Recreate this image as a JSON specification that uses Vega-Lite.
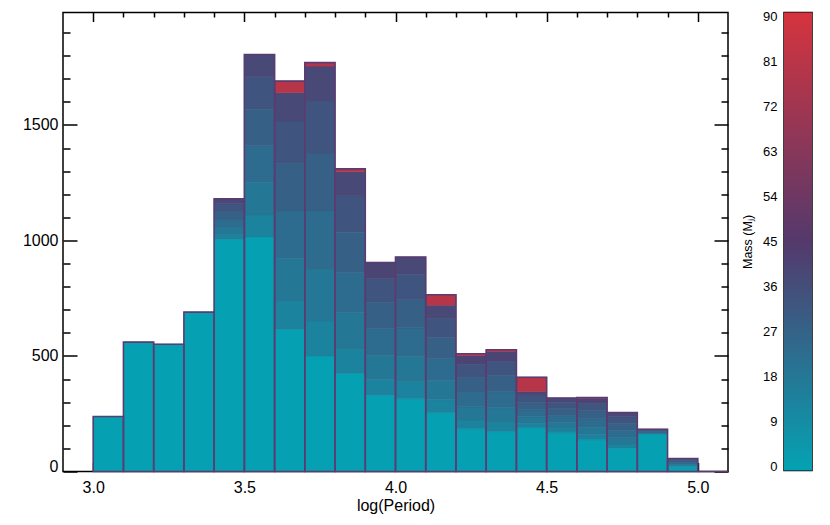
{
  "$schema": "https://vega.github.io/schema/vega-lite/v6.json",
  "background": "white",
  "padding": {"left": 21, "top": 9.5, "right": 5, "bottom": 5},
  "spacing": 10,
  "config": {
    "view": {"stroke": "black", "strokeWidth": 1.5},
    "font": "Liberation Sans",
    "axis": {
      "domain": false,
      "grid": false,
      "tickColor": "black",
      "tickWidth": 1.5,
      "labelFont": "Liberation Sans",
      "labelFontSize": 16,
      "labelColor": "black",
      "titleFont": "Liberation Sans",
      "titleFontSize": 16,
      "titleFontWeight": "normal",
      "titleColor": "black"
    }
  },
  "datasets": {
    "seg": [
      {"x0": 3.0, "x1": 3.1, "lo": 0, "hi": 238, "m": 0},
      {"x0": 3.1, "x1": 3.2, "lo": 0, "hi": 560, "m": 0},
      {"x0": 3.2, "x1": 3.3, "lo": 0, "hi": 551, "m": 0},
      {"x0": 3.3, "x1": 3.4, "lo": 0, "hi": 690, "m": 0},
      {"x0": 3.4, "x1": 3.5, "lo": 0, "hi": 1005, "m": 0},
      {"x0": 3.4, "x1": 3.5, "lo": 1005, "hi": 1026, "m": 13},
      {"x0": 3.4, "x1": 3.5, "lo": 1026, "hi": 1058, "m": 18},
      {"x0": 3.4, "x1": 3.5, "lo": 1058, "hi": 1093, "m": 23},
      {"x0": 3.4, "x1": 3.5, "lo": 1093, "hi": 1128, "m": 28},
      {"x0": 3.4, "x1": 3.5, "lo": 1128, "hi": 1159, "m": 33},
      {"x0": 3.4, "x1": 3.5, "lo": 1159, "hi": 1180, "m": 38},
      {"x0": 3.5, "x1": 3.6, "lo": 0, "hi": 1015, "m": 0},
      {"x0": 3.5, "x1": 3.6, "lo": 1015, "hi": 1110, "m": 13},
      {"x0": 3.5, "x1": 3.6, "lo": 1110, "hi": 1252, "m": 18},
      {"x0": 3.5, "x1": 3.6, "lo": 1252, "hi": 1410, "m": 23},
      {"x0": 3.5, "x1": 3.6, "lo": 1410, "hi": 1568, "m": 28},
      {"x0": 3.5, "x1": 3.6, "lo": 1568, "hi": 1710, "m": 33},
      {"x0": 3.5, "x1": 3.6, "lo": 1710, "hi": 1805, "m": 38},
      {"x0": 3.6, "x1": 3.7, "lo": 0, "hi": 615, "m": 0},
      {"x0": 3.6, "x1": 3.7, "lo": 615, "hi": 738, "m": 13},
      {"x0": 3.6, "x1": 3.7, "lo": 738, "hi": 923, "m": 18},
      {"x0": 3.6, "x1": 3.7, "lo": 923, "hi": 1128, "m": 23},
      {"x0": 3.6, "x1": 3.7, "lo": 1128, "hi": 1333, "m": 28},
      {"x0": 3.6, "x1": 3.7, "lo": 1333, "hi": 1517, "m": 33},
      {"x0": 3.6, "x1": 3.7, "lo": 1517, "hi": 1640, "m": 38},
      {"x0": 3.6, "x1": 3.7, "lo": 1640, "hi": 1690, "m": 80},
      {"x0": 3.7, "x1": 3.8, "lo": 0, "hi": 500, "m": 0},
      {"x0": 3.7, "x1": 3.8, "lo": 500, "hi": 651, "m": 13},
      {"x0": 3.7, "x1": 3.8, "lo": 651, "hi": 877, "m": 18},
      {"x0": 3.7, "x1": 3.8, "lo": 877, "hi": 1128, "m": 23},
      {"x0": 3.7, "x1": 3.8, "lo": 1128, "hi": 1379, "m": 28},
      {"x0": 3.7, "x1": 3.8, "lo": 1379, "hi": 1604, "m": 33},
      {"x0": 3.7, "x1": 3.8, "lo": 1604, "hi": 1755, "m": 38},
      {"x0": 3.7, "x1": 3.8, "lo": 1755, "hi": 1770, "m": 80},
      {"x0": 3.8, "x1": 3.9, "lo": 0, "hi": 425, "m": 0},
      {"x0": 3.8, "x1": 3.9, "lo": 425, "hi": 530, "m": 13},
      {"x0": 3.8, "x1": 3.9, "lo": 530, "hi": 687, "m": 18},
      {"x0": 3.8, "x1": 3.9, "lo": 687, "hi": 862, "m": 23},
      {"x0": 3.8, "x1": 3.9, "lo": 862, "hi": 1036, "m": 28},
      {"x0": 3.8, "x1": 3.9, "lo": 1036, "hi": 1193, "m": 33},
      {"x0": 3.8, "x1": 3.9, "lo": 1193, "hi": 1298, "m": 38},
      {"x0": 3.8, "x1": 3.9, "lo": 1298, "hi": 1310, "m": 80},
      {"x0": 3.9, "x1": 4.0, "lo": 0, "hi": 330, "m": 0},
      {"x0": 3.9, "x1": 4.0, "lo": 330, "hi": 399, "m": 13},
      {"x0": 3.9, "x1": 4.0, "lo": 399, "hi": 503, "m": 18},
      {"x0": 3.9, "x1": 4.0, "lo": 503, "hi": 618, "m": 23},
      {"x0": 3.9, "x1": 4.0, "lo": 618, "hi": 733, "m": 28},
      {"x0": 3.9, "x1": 4.0, "lo": 733, "hi": 836, "m": 33},
      {"x0": 3.9, "x1": 4.0, "lo": 836, "hi": 905, "m": 40},
      {"x0": 4.0, "x1": 4.1, "lo": 0, "hi": 315, "m": 0},
      {"x0": 4.0, "x1": 4.1, "lo": 315, "hi": 389, "m": 13},
      {"x0": 4.0, "x1": 4.1, "lo": 389, "hi": 499, "m": 18},
      {"x0": 4.0, "x1": 4.1, "lo": 499, "hi": 622, "m": 23},
      {"x0": 4.0, "x1": 4.1, "lo": 622, "hi": 744, "m": 28},
      {"x0": 4.0, "x1": 4.1, "lo": 744, "hi": 854, "m": 33},
      {"x0": 4.0, "x1": 4.1, "lo": 854, "hi": 928, "m": 38},
      {"x0": 4.1, "x1": 4.2, "lo": 0, "hi": 255, "m": 0},
      {"x0": 4.1, "x1": 4.2, "lo": 255, "hi": 311, "m": 13},
      {"x0": 4.1, "x1": 4.2, "lo": 311, "hi": 395, "m": 18},
      {"x0": 4.1, "x1": 4.2, "lo": 395, "hi": 488, "m": 23},
      {"x0": 4.1, "x1": 4.2, "lo": 488, "hi": 581, "m": 28},
      {"x0": 4.1, "x1": 4.2, "lo": 581, "hi": 664, "m": 33},
      {"x0": 4.1, "x1": 4.2, "lo": 664, "hi": 720, "m": 38},
      {"x0": 4.1, "x1": 4.2, "lo": 720, "hi": 765, "m": 80},
      {"x0": 4.2, "x1": 4.3, "lo": 0, "hi": 185, "m": 0},
      {"x0": 4.2, "x1": 4.3, "lo": 185, "hi": 223, "m": 13},
      {"x0": 4.2, "x1": 4.3, "lo": 223, "hi": 280, "m": 18},
      {"x0": 4.2, "x1": 4.3, "lo": 280, "hi": 344, "m": 23},
      {"x0": 4.2, "x1": 4.3, "lo": 344, "hi": 407, "m": 28},
      {"x0": 4.2, "x1": 4.3, "lo": 407, "hi": 464, "m": 33},
      {"x0": 4.2, "x1": 4.3, "lo": 464, "hi": 502, "m": 40},
      {"x0": 4.2, "x1": 4.3, "lo": 502, "hi": 510, "m": 80},
      {"x0": 4.3, "x1": 4.4, "lo": 0, "hi": 172, "m": 0},
      {"x0": 4.3, "x1": 4.4, "lo": 172, "hi": 214, "m": 13},
      {"x0": 4.3, "x1": 4.4, "lo": 214, "hi": 276, "m": 18},
      {"x0": 4.3, "x1": 4.4, "lo": 276, "hi": 346, "m": 23},
      {"x0": 4.3, "x1": 4.4, "lo": 346, "hi": 416, "m": 28},
      {"x0": 4.3, "x1": 4.4, "lo": 416, "hi": 478, "m": 33},
      {"x0": 4.3, "x1": 4.4, "lo": 478, "hi": 520, "m": 40},
      {"x0": 4.3, "x1": 4.4, "lo": 520, "hi": 527, "m": 80},
      {"x0": 4.4, "x1": 4.5, "lo": 0, "hi": 190, "m": 0},
      {"x0": 4.4, "x1": 4.5, "lo": 190, "hi": 209, "m": 13},
      {"x0": 4.4, "x1": 4.5, "lo": 209, "hi": 237, "m": 18},
      {"x0": 4.4, "x1": 4.5, "lo": 237, "hi": 268, "m": 23},
      {"x0": 4.4, "x1": 4.5, "lo": 268, "hi": 299, "m": 28},
      {"x0": 4.4, "x1": 4.5, "lo": 299, "hi": 327, "m": 33},
      {"x0": 4.4, "x1": 4.5, "lo": 327, "hi": 346, "m": 38},
      {"x0": 4.4, "x1": 4.5, "lo": 346, "hi": 408, "m": 80},
      {"x0": 4.5, "x1": 4.6, "lo": 0, "hi": 168, "m": 0},
      {"x0": 4.5, "x1": 4.6, "lo": 168, "hi": 186, "m": 13},
      {"x0": 4.5, "x1": 4.6, "lo": 186, "hi": 213, "m": 18},
      {"x0": 4.5, "x1": 4.6, "lo": 213, "hi": 243, "m": 23},
      {"x0": 4.5, "x1": 4.6, "lo": 243, "hi": 273, "m": 28},
      {"x0": 4.5, "x1": 4.6, "lo": 273, "hi": 300, "m": 33},
      {"x0": 4.5, "x1": 4.6, "lo": 300, "hi": 318, "m": 38},
      {"x0": 4.6, "x1": 4.7, "lo": 0, "hi": 138, "m": 0},
      {"x0": 4.6, "x1": 4.7, "lo": 138, "hi": 159, "m": 13},
      {"x0": 4.6, "x1": 4.7, "lo": 159, "hi": 192, "m": 18},
      {"x0": 4.6, "x1": 4.7, "lo": 192, "hi": 228, "m": 23},
      {"x0": 4.6, "x1": 4.7, "lo": 228, "hi": 263, "m": 28},
      {"x0": 4.6, "x1": 4.7, "lo": 263, "hi": 296, "m": 33},
      {"x0": 4.6, "x1": 4.7, "lo": 296, "hi": 317, "m": 40},
      {"x0": 4.6, "x1": 4.7, "lo": 317, "hi": 320, "m": 80},
      {"x0": 4.7, "x1": 4.8, "lo": 0, "hi": 101, "m": 0},
      {"x0": 4.7, "x1": 4.8, "lo": 101, "hi": 119, "m": 13},
      {"x0": 4.7, "x1": 4.8, "lo": 119, "hi": 147, "m": 18},
      {"x0": 4.7, "x1": 4.8, "lo": 147, "hi": 178, "m": 23},
      {"x0": 4.7, "x1": 4.8, "lo": 178, "hi": 209, "m": 28},
      {"x0": 4.7, "x1": 4.8, "lo": 209, "hi": 237, "m": 33},
      {"x0": 4.7, "x1": 4.8, "lo": 237, "hi": 255, "m": 38},
      {"x0": 4.8, "x1": 4.9, "lo": 0, "hi": 163, "m": 0},
      {"x0": 4.8, "x1": 4.9, "lo": 163, "hi": 173, "m": 23},
      {"x0": 4.8, "x1": 4.9, "lo": 173, "hi": 183, "m": 30},
      {"x0": 4.9, "x1": 5.0, "lo": 0, "hi": 22, "m": 0},
      {"x0": 4.9, "x1": 5.0, "lo": 22, "hi": 26, "m": 13},
      {"x0": 4.9, "x1": 5.0, "lo": 26, "hi": 32, "m": 18},
      {"x0": 4.9, "x1": 5.0, "lo": 32, "hi": 39, "m": 23},
      {"x0": 4.9, "x1": 5.0, "lo": 39, "hi": 46, "m": 28},
      {"x0": 4.9, "x1": 5.0, "lo": 46, "hi": 52, "m": 33},
      {"x0": 4.9, "x1": 5.0, "lo": 52, "hi": 56, "m": 38}
    ],
    "tot": [
      {"x0": 3.0, "x1": 3.1, "n": 238},
      {"x0": 3.1, "x1": 3.2, "n": 560},
      {"x0": 3.2, "x1": 3.3, "n": 551},
      {"x0": 3.3, "x1": 3.4, "n": 690},
      {"x0": 3.4, "x1": 3.5, "n": 1180},
      {"x0": 3.5, "x1": 3.6, "n": 1805},
      {"x0": 3.6, "x1": 3.7, "n": 1690},
      {"x0": 3.7, "x1": 3.8, "n": 1770},
      {"x0": 3.8, "x1": 3.9, "n": 1310},
      {"x0": 3.9, "x1": 4.0, "n": 905},
      {"x0": 4.0, "x1": 4.1, "n": 928},
      {"x0": 4.1, "x1": 4.2, "n": 765},
      {"x0": 4.2, "x1": 4.3, "n": 510},
      {"x0": 4.3, "x1": 4.4, "n": 527},
      {"x0": 4.4, "x1": 4.5, "n": 408},
      {"x0": 4.5, "x1": 4.6, "n": 318},
      {"x0": 4.6, "x1": 4.7, "n": 320},
      {"x0": 4.7, "x1": 4.8, "n": 255},
      {"x0": 4.8, "x1": 4.9, "n": 183},
      {"x0": 4.9, "x1": 5.0, "n": 56},
      {"x0": 5.0, "x1": 5.1, "n": 0}
    ],
    "cb": [{"lo": -0.8, "hi": 90.9}]
  },
  "hconcat": [
    {
      "width": 665,
      "height": 459,
      "resolve": {"axis": {"x": "independent", "y": "independent"}},
      "layer": [
        {
          "data": {"name": "seg"},
          "mark": {"type": "rect", "strokeWidth": 0.6},
          "encoding": {
            "x": {
              "field": "x0", "type": "quantitative",
              "scale": {"domain": [2.9, 5.1], "nice": false, "zero": false},
              "axis": {
                "orient": "bottom",
                "values": [3.0, 3.1, 3.2, 3.3, 3.4, 3.5, 3.6, 3.7, 3.8, 3.9, 4.0, 4.1, 4.2, 4.3, 4.4, 4.5, 4.6, 4.7, 4.8, 4.9, 5.0],
                "labelExpr": "abs(datum.value*2 - round(datum.value*2)) < 0.001 ? format(datum.value, '.1f') : ''",
                "tickSize": {"condition": {"test": "abs(datum.value*2 - round(datum.value*2)) < 0.001", "value": -9}, "value": -4.5},
                "labelPadding": 17,
                "labelFlush": false,
                "title": "log(Period)",
                "titlePadding": 2
              }
            },
            "x2": {"field": "x1"},
            "y": {
              "field": "lo", "type": "quantitative",
              "scale": {"domain": [0, 1987], "nice": false},
              "axis": {
                "orient": "left",
                "values": [0, 100, 200, 300, 400, 500, 600, 700, 800, 900, 1000, 1100, 1200, 1300, 1400, 1500, 1600, 1700, 1800, 1900],
                "labelExpr": "datum.value % 500 === 0 ? format(datum.value, 'd') : ''",
                "tickSize": {"condition": {"test": "datum.value % 500 === 0", "value": -14}, "value": -7},
                "labelBaseline": {"condition": {"test": "datum.value === 0", "value": "alphabetic"}, "value": "middle"},
                "labelPadding": 19,
                "title": null
              }
            },
            "y2": {"field": "hi"},
            "fill": {
              "field": "m", "type": "quantitative",
              "scale": {"domain": [0, 45, 90], "range": ["#05a1b2", "#54396c", "#d3343f"], "interpolate": "rgb"},
              "legend": null
            },
            "stroke": {
              "field": "m", "type": "quantitative",
              "scale": {"domain": [0, 45, 90], "range": ["#05a1b2", "#54396c", "#d3343f"], "interpolate": "rgb"},
              "legend": null
            }
          }
        },
        {
          "data": {"name": "tot"},
          "mark": {"type": "rect", "filled": false, "stroke": "#5b3c72", "strokeWidth": 1.6},
          "encoding": {
            "x": {
              "field": "x0", "type": "quantitative",
              "axis": {
                "orient": "top",
                "values": [3.0, 3.1, 3.2, 3.3, 3.4, 3.5, 3.6, 3.7, 3.8, 3.9, 4.0, 4.1, 4.2, 4.3, 4.4, 4.5, 4.6, 4.7, 4.8, 4.9, 5.0],
                "labels": false,
                "tickSize": {"condition": {"test": "abs(datum.value*2 - round(datum.value*2)) < 0.001", "value": -9}, "value": -4.5},
                "title": null
              }
            },
            "x2": {"field": "x1"},
            "y": {
              "field": "n", "type": "quantitative",
              "axis": {
                "orient": "right",
                "values": [0, 100, 200, 300, 400, 500, 600, 700, 800, 900, 1000, 1100, 1200, 1300, 1400, 1500, 1600, 1700, 1800, 1900],
                "labels": false,
                "tickSize": {"condition": {"test": "datum.value % 500 === 0", "value": -14}, "value": -7},
                "title": null
              }
            },
            "y2": {"datum": 0}
          }
        }
      ]
    },
    {
      "width": 28,
      "height": 458,
      "data": {"name": "cb"},
      "mark": {
        "type": "rect",
        "fill": {
          "gradient": "linear", "x1": 0, "y1": 1, "x2": 0, "y2": 0,
          "stops": [
            {"offset": 0, "color": "#05a1b2"},
            {"offset": 0.0087, "color": "#05a1b2"},
            {"offset": 0.4995, "color": "#54396c"},
            {"offset": 0.99, "color": "#d3343f"},
            {"offset": 1, "color": "#d3343f"}
          ]
        }
      },
      "encoding": {
        "y": {
          "field": "lo", "type": "quantitative",
          "scale": {"domain": [-0.8, 90.9], "nice": false, "zero": false},
          "axis": {
            "orient": "left",
            "values": [0, 4.5, 9, 13.5, 18, 22.5, 27, 31.5, 36, 40.5, 45, 49.5, 54, 58.5, 63, 67.5, 72, 76.5, 81, 85.5, 90],
            "labelExpr": "datum.value % 9 === 0 ? format(datum.value, 'd') : ''",
            "tickSize": {"condition": {"test": "datum.value % 9 === 0", "value": -5}, "value": -3},
            "labelFontSize": 13,
            "labelPadding": 12,
            "title": "Mass (Mⱼ)",
            "titleFontSize": 12.5,
            "titlePadding": 8
          }
        },
        "y2": {"field": "hi"}
      }
    }
  ]
}
